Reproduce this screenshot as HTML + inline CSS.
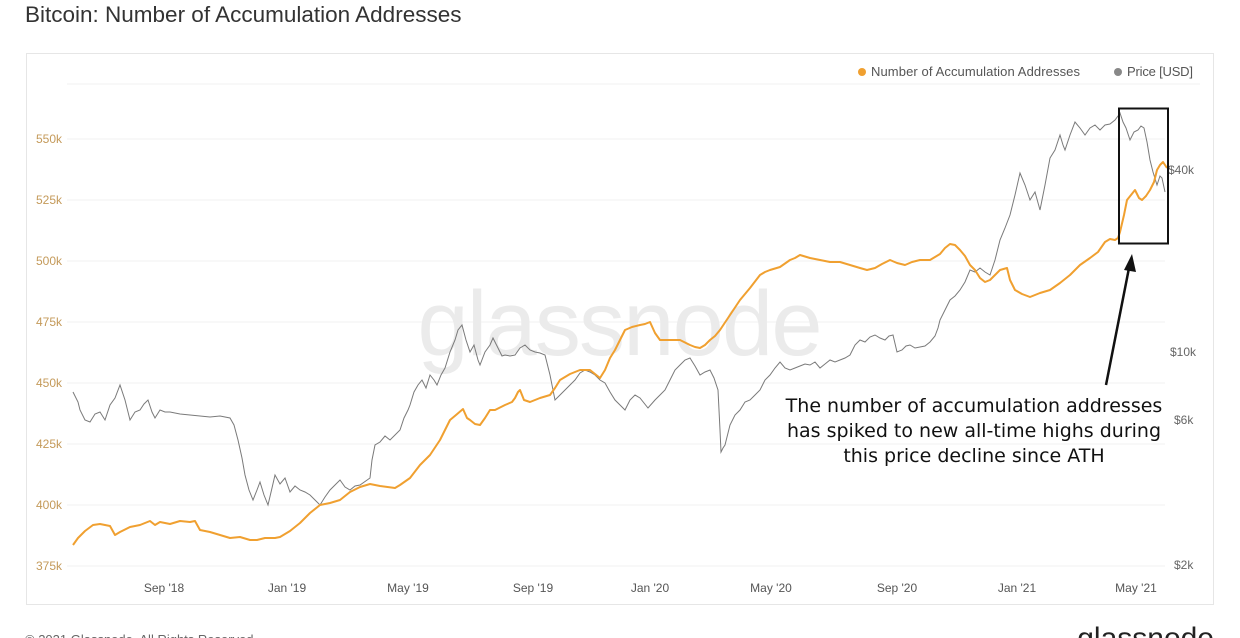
<!DOCTYPE html>
<html><head><meta charset="utf-8"><style>
html,body{margin:0;padding:0;background:#fff;width:1240px;height:638px;overflow:hidden;font-family:"Liberation Sans",sans-serif}
</style></head><body>
<svg width="1240" height="638" viewBox="0 0 1240 638" xmlns="http://www.w3.org/2000/svg" font-family="Liberation Sans, sans-serif">
<text x="25" y="22" font-size="22.5" fill="#333">Bitcoin: Number of Accumulation Addresses</text>
<rect x="26.5" y="53.5" width="1187" height="551" fill="#fff" stroke="#e6e6e6"/>
<g stroke="#f2f2f2" stroke-width="1">
<line x1="67" x2="1200" y1="84" y2="84"/>
<line x1="67" x2="1165" y1="139" y2="139"/><line x1="67" x2="1165" y1="200" y2="200"/>
<line x1="67" x2="1165" y1="261" y2="261"/><line x1="67" x2="1165" y1="322" y2="322"/>
<line x1="67" x2="1165" y1="383" y2="383"/><line x1="67" x2="1165" y1="444" y2="444"/>
<line x1="67" x2="1165" y1="505" y2="505"/><line x1="67" x2="1165" y1="566" y2="566"/>
</g>
<text x="620" y="355" font-size="92" fill="#ebebeb" text-anchor="middle" textLength="405">glassnode</text>
<g font-size="12" fill="#c49a5a">
<text x="36" y="143">550k</text><text x="36" y="204">525k</text><text x="36" y="265">500k</text>
<text x="36" y="326">475k</text><text x="36" y="387">450k</text><text x="36" y="448">425k</text>
<text x="36" y="509">400k</text><text x="36" y="570">375k</text>
</g>
<g font-size="12" fill="#666">
<text x="1168" y="174">$40k</text><text x="1170" y="356">$10k</text><text x="1174" y="424">$6k</text><text x="1174" y="569">$2k</text>
</g>
<g font-size="12" fill="#555" text-anchor="middle">
<text x="164" y="592">Sep '18</text><text x="287" y="592">Jan '19</text><text x="408" y="592">May '19</text>
<text x="533" y="592">Sep '19</text><text x="650" y="592">Jan '20</text><text x="771" y="592">May '20</text>
<text x="897" y="592">Sep '20</text><text x="1017" y="592">Jan '21</text><text x="1136" y="592">May '21</text>
</g>
<circle cx="862" cy="72" r="4" fill="#f0a030"/><text x="871" y="76" font-size="13" fill="#555" textLength="209">Number of Accumulation Addresses</text>
<circle cx="1118" cy="72" r="4" fill="#888"/><text x="1127" y="76" font-size="13" fill="#555" textLength="66">Price [USD]</text>
<polyline fill="none" stroke="#7a7a7a" stroke-width="1" points="73,392 78,402 80,410 85,420 90,422 95,414 100,412 105,420 110,405 115,398 120,385 125,400 130,420 135,412 140,410 144,404 148,400 152,412 155,418 160,410 165,412 170,412 180,414 190,415 200,416 210,417 220,416 230,418 234,425 238,440 242,458 245,475 249,490 253,500 257,490 260,482 264,495 268,505 272,488 275,475 280,484 285,478 290,492 295,486 300,490 305,492 310,495 315,500 320,505 325,497 330,490 335,485 340,480 345,487 350,490 355,486 360,485 370,478 372,460 375,445 380,442 385,436 390,440 395,435 400,430 404,418 408,410 410,405 414,392 418,385 422,380 426,388 430,375 434,380 437,385 441,375 445,368 450,352 455,340 458,330 462,325 466,340 470,352 474,345 478,360 480,365 485,352 490,345 493,338 498,348 502,356 505,355 510,356 515,355 520,348 525,345 530,350 535,352 540,353 545,355 550,375 555,400 560,395 565,390 570,385 575,380 580,373 585,370 590,372 595,375 600,380 605,383 610,392 615,400 620,405 625,410 630,400 635,395 640,398 648,408 655,400 660,395 665,390 670,380 675,370 680,365 685,360 690,358 695,366 700,375 705,372 710,370 714,378 718,390 720,430 721,452 723,448 725,445 730,425 735,415 740,410 745,402 750,400 755,395 760,390 765,380 770,375 775,368 780,362 785,368 790,370 795,368 800,366 805,364 810,365 815,362 820,368 825,364 830,360 835,362 840,360 845,358 850,355 855,345 860,340 865,342 870,337 875,335 880,338 885,340 889,336 893,335 897,352 902,350 906,346 910,345 915,348 920,347 925,346 930,342 935,336 938,328 940,320 945,310 950,300 955,296 960,290 965,282 970,270 975,272 980,268 985,272 990,275 995,260 1000,240 1005,228 1010,215 1015,195 1020,173 1025,185 1030,200 1035,192 1040,210 1045,185 1050,158 1055,150 1060,135 1063,145 1065,150 1070,135 1075,122 1080,128 1085,135 1090,128 1095,125 1100,130 1105,125 1110,124 1115,120 1118,116 1120,113 1123,122 1126,128 1130,140 1134,132 1138,130 1141,126 1144,128 1147,142 1150,160 1153,172 1157,185 1160,176 1162,178 1165,192"/>
<polyline fill="none" stroke="#f0a030" stroke-width="2" stroke-linejoin="round" points="73,545 78,538 85,531 93,525 100,524 110,526 115,535 120,532 130,527 140,525 150,521 155,525 160,522 170,524 180,521 190,522 195,521 200,530 210,532 220,535 230,538 240,537 250,540 257,540 265,538 275,538 280,537 285,534 290,531 300,523 310,513 320,505 330,503 340,500 350,492 360,487 370,484 380,486 395,488 400,485 410,478 420,465 430,455 440,440 450,420 456,415 463,409 467,418 470,420 475,424 480,425 485,418 490,410 495,410 505,405 512,402 515,398 518,392 520,390 524,400 530,402 540,398 550,395 555,388 560,380 570,374 580,370 590,370 595,374 600,378 605,370 610,358 615,350 620,340 625,330 632,327 640,325 645,324 650,322 655,333 660,340 670,340 680,340 690,345 695,347 700,348 705,345 710,340 715,336 720,330 730,315 740,300 750,288 760,275 765,272 770,270 780,267 790,260 795,258 800,255 810,258 820,260 830,262 840,262 850,265 860,268 867,270 875,268 882,264 890,260 897,263 905,265 912,262 920,260 930,260 940,254 945,248 950,244 955,245 960,250 965,256 970,265 975,270 980,278 985,282 990,280 995,275 1000,270 1007,268 1010,280 1015,290 1022,294 1030,297 1040,293 1050,290 1060,283 1070,275 1080,265 1090,258 1098,252 1105,242 1110,239 1115,240 1118,238 1120,232 1124,215 1127,200 1131,195 1135,190 1139,198 1142,200 1146,196 1150,190 1154,182 1157,170 1160,165 1163,162 1167,168"/>
<rect x="1119" y="108.5" width="49" height="135" fill="none" stroke="#111" stroke-width="2"/>
<line x1="1106" y1="385" x2="1129" y2="268" stroke="#111" stroke-width="2.5"/>
<polygon points="1132,254 1124,270 1136,272" fill="#111"/>
<g font-family="DejaVu Sans, sans-serif" font-size="19" fill="#111" text-anchor="middle">
<text x="974" y="412">The number of accumulation addresses</text>
<text x="974" y="437">has spiked to new all-time highs during</text>
<text x="974" y="462">this price decline since ATH</text>
</g>
<text x="25" y="644" font-size="13" fill="#666">© 2021 Glassnode. All Rights Reserved.</text>
<text x="1214" y="648" font-size="30" fill="#222" text-anchor="end">glassnode</text>
</svg>
</body></html>
